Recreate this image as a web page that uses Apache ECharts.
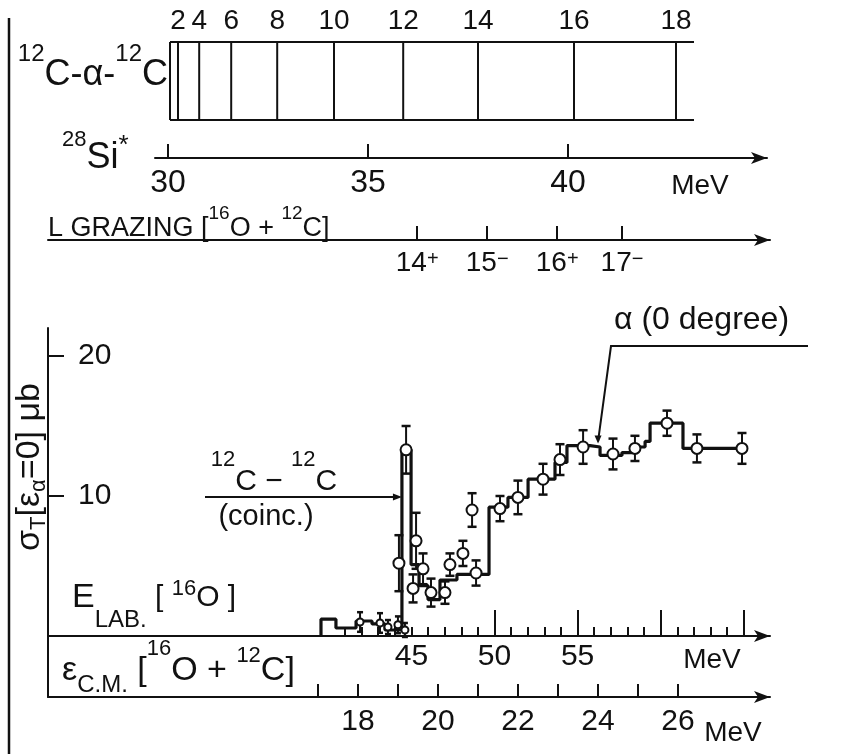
<!DOCTYPE html>
<html>
<head>
<meta charset="utf-8">
<script src="https://cdn.jsdelivr.net/npm/echarts@6/dist/echarts.min.js"></script>
<style>
  html, body { margin: 0; padding: 0; background: #fff; }
  #chart { width: 849px; height: 754px; }
</style>
</head>
<body>
<div id="chart"></div>
<script>
// 12C-alpha-12C rotational band: spin J and 28Si* excitation energy (MeV)
const bandSpin = [0, 2, 4, 6, 8, 10, 12, 14, 16, 18];
const bandEx = [30.05, 30.25, 30.78, 31.58, 32.73, 34.15, 35.88, 37.75, 40.15, 42.70];
const bandSpan = [30.05, 43.15];

// 28Si* excitation scale
const siTicks = [30, 35, 40];

// grazing angular momentum of 16O + 12C, placed on the C.M. energy scale
const lGrazing = [14, 15, 16, 17];
const lParity = ['+', '−', '+', '−'];
const lGrazingEcm = [19.48, 21.23, 22.98, 24.60];

// beam energy (lab) and C.M. energy scales
const elabMinorTicks = [41, 42, 43, 44, 45, 46, 47, 48, 49, 50, 51, 52, 53, 54, 55, 56, 57, 58, 59, 60, 61, 62, 63, 64];
const elabMajorTicks = [50, 55, 60, 65];
const elabLabels = [45, 50, 55];
const ecmTicks = [17, 18, 19, 20, 21, 22, 23, 24, 25, 26];
const ecmLabels = [18, 20, 22, 24, 26];
const sigmaTicks = [10, 20];

// measured cross sections: E_LAB (MeV), sigma_T (µb), error (µb)
const elab = [41.91, 43.11, 43.59, 44.19, 44.61, 44.25, 44.68, 45.28, 45.70, 45.10, 46.18, 47.02, 47.32,
              48.10, 48.65, 48.89, 50.33, 51.41, 52.92, 53.94, 55.33, 57.13, 58.45, 60.38, 62.18, 64.89];
const sigma = [1.0, 0.93, 0.64, 0.8, 0.43, 5.2, 13.3, 6.8, 4.8, 3.4, 3.1, 3.1, 5.1,
               5.9, 9.0, 4.5, 9.1, 9.9, 11.2, 12.6, 13.5, 13.0, 13.4, 15.2, 13.4, 13.4];
const sigmaErr = [0.7, 0.7, 0.5, 0.6, 0.5, 2.0, 1.7, 2.0, 1.1, 1.0, 1.0, 0.8, 0.8,
                  0.9, 1.2, 0.9, 0.9, 1.2, 1.1, 1.1, 1.2, 1.1, 0.9, 0.9, 1.0, 1.1];

// alpha (0 degree) yield, binned in E_LAB
const histEdges = [39.56, 40.46, 41.67, 42.63, 43.41, 44.43, 44.98, 45.46, 46.00, 46.72, 47.74, 49.67,
                   50.81, 52.02, 53.64, 54.36, 55.75, 56.35, 57.67, 58.27, 59.06, 59.36, 61.34, 65.07];
const histValues = [1.2, 0.57, 1.07, 0.86, 0.43, 13.3, 5.1, 3.6, 2.6, 4.0, 4.4,
                    9.2, 9.9, 11.2, 12.4, 13.6, 13.5, 12.9, 13.1, 13.5, 13.9, 15.2, 13.4];

// annotation anchors (E_LAB, sigma)
const coincArrowAt = [histEdges[5], 9.93];
const alphaArrowAt = [56.23, 13.9];

const INK = '#111';
const FONT = 'Liberation Sans';

const elabRange = [23.135, 66.576];
const ecmRange = [10.25, 28.3];
const exRange = [29.675, 44.975];

// multi-size label: parts = [text, fontSize, vertical offset]
function label(x, y, parts, opt) {
  opt = opt || {};
  const T = Math.max(...parts.map(p => p[1] / 2 - (p[2] || 0)));
  const pads = parts.map(p => T + (p[2] || 0) - p[1] / 2);
  const H = Math.max(...parts.map((p, i) => pads[i] + p[1]));
  const rich = {};
  let text = '';
  parts.forEach((p, i) => {
    const k = 't' + i;
    rich[k] = {
      fontSize: p[1], fontFamily: FONT, fill: INK,
      padding: [pads[i], 0, H - pads[i] - p[1], 0], lineHeight: H
    };
    text += '{' + k + '|' + p[0] + '}';
  });
  return {
    type: 'text', x: x, y: y, rotation: opt.rotation || 0, silent: true, z: 50,
    scaleX: opt.scaleX || 1,
    style: { x: 0, y: -T, text: text, rich: rich, align: opt.align || 'left', verticalAlign: 'top', fill: INK }
  };
}

const axisLineStyle = { color: INK, width: 2 };
const tickStyle = { color: INK, width: 2 };
const arrowLine = { symbol: ['none', 'arrow'], symbolSize: [9, 16], lineStyle: axisLineStyle };
const numLabel = { color: INK, fontFamily: FONT, fontSize: 30, hideOverlap: false };

const hiddenY = i => ({ gridIndex: i, type: 'value', min: 0, max: 1, show: false });

const option = {
  animation: false,
  backgroundColor: '#fff',
  textStyle: { fontFamily: FONT, color: INK },
  grid: [
    { left: 48, top: 328, width: 722, height: 369, outerBoundsMode: 'none' },   // 0 cross sections
    { left: 48, top: 536, width: 722, height: 100, outerBoundsMode: 'none' },   // 1 E_LAB scale
    { left: 48, top: 180, width: 722, height: 60, outerBoundsMode: 'none' },    // 2 L grazing
    { left: 155, top: 100, width: 612, height: 58, outerBoundsMode: 'none' },   // 3 28Si*
    { left: 155, top: 42, width: 612, height: 78, outerBoundsMode: 'none' },    // 4 band levels
    { left: 48, top: 536, width: 722, height: 100, outerBoundsMode: 'none' }    // 5 long E_LAB ticks
  ],
  xAxis: [
    { // E_LAB data scale of the cross-section panel
      gridIndex: 0, type: 'value', min: elabRange[0], max: elabRange[1], show: false
    },
    { // E_C.M. [16O + 12C]
      gridIndex: 0, type: 'value', position: 'bottom', min: ecmRange[0], max: ecmRange[1],
      axisLine: Object.assign({ onZero: false }, arrowLine),
      axisTick: { inside: true, length: 13, customValues: ecmTicks, lineStyle: tickStyle },
      axisLabel: Object.assign({ customValues: ecmLabels, margin: 10 }, numLabel),
      splitLine: { show: false }
    },
    { // E_LAB [16O]
      gridIndex: 1, type: 'value', position: 'bottom', min: elabRange[0], max: elabRange[1],
      axisLine: Object.assign({ onZero: false }, arrowLine),
      axisTick: { inside: true, length: 9, customValues: elabMinorTicks, lineStyle: tickStyle },
      axisLabel: Object.assign({ customValues: elabLabels, margin: 6 }, numLabel),
      splitLine: { show: false }
    },
    { // long E_LAB ticks every 5 MeV
      gridIndex: 5, type: 'value', position: 'bottom', min: elabRange[0], max: elabRange[1],
      axisLine: { show: false, onZero: false },
      axisTick: { inside: true, length: 26, customValues: elabMajorTicks, lineStyle: tickStyle },
      axisLabel: { show: false }, splitLine: { show: false }
    },
    { // L grazing
      gridIndex: 2, type: 'value', position: 'bottom', min: ecmRange[0], max: ecmRange[1],
      axisLine: Object.assign({ onZero: false }, arrowLine),
      axisTick: { inside: true, length: 14, customValues: lGrazingEcm, lineStyle: tickStyle },
      axisLabel: {
        customValues: lGrazingEcm, margin: 9, hideOverlap: false,
        formatter: v => {
          const i = lGrazingEcm.indexOf(v);
          return '{n|' + lGrazing[i] + '}{p|' + lParity[i] + '}';
        },
        rich: {
          n: { fontSize: 28, fontFamily: FONT, color: INK },
          p: { fontSize: 20, fontFamily: FONT, color: INK, verticalAlign: 'top' }
        }
      },
      splitLine: { show: false }
    },
    { // 28Si* excitation
      gridIndex: 3, type: 'value', position: 'bottom', min: exRange[0], max: exRange[1],
      axisLine: Object.assign({ onZero: false }, arrowLine),
      axisTick: { inside: true, length: 14, customValues: siTicks, lineStyle: tickStyle },
      axisLabel: Object.assign({}, numLabel, { customValues: siTicks, margin: 9, fontSize: 32 }),
      splitLine: { show: false }
    },
    { // band spins
      gridIndex: 4, type: 'value', position: 'top', min: exRange[0], max: exRange[1],
      axisLine: { show: false, onZero: false },
      axisTick: { show: false },
      axisLabel: {
        customValues: bandEx.slice(1), margin: 7, hideOverlap: false,
        color: INK, fontFamily: FONT, fontSize: 28,
        formatter: v => String(bandSpin[bandEx.indexOf(v)])
      },
      splitLine: { show: false }
    }
  ],
  yAxis: [
    {
      gridIndex: 0, type: 'value', min: -4.357, max: 22,
      axisLine: { show: true, onZero: false, lineStyle: axisLineStyle },
      axisTick: { show: true, inside: true, length: 16, customValues: sigmaTicks, lineStyle: tickStyle },
      axisLabel: Object.assign({ inside: true, margin: 30, customValues: sigmaTicks }, numLabel),
      splitLine: { show: false }
    },
    hiddenY(1), hiddenY(2), hiddenY(3), hiddenY(4), hiddenY(5)
  ],
  series: [
    { // band level lines
      type: 'custom', xAxisIndex: 6, yAxisIndex: 4, clip: false,
      data: bandEx.map((e, i) => [e, bandSpin[i]]),
      renderItem: (params, api) => {
        const a = api.coord([api.value(0), 0]);
        const b = api.coord([api.value(0), 1]);
        return { type: 'line', shape: { x1: a[0], y1: a[1], x2: b[0], y2: b[1] }, style: { stroke: INK, lineWidth: 2 } };
      }
    },
    { type: 'line', xAxisIndex: 6, yAxisIndex: 4, clip: false, symbol: 'none', silent: true,
      data: [[bandSpan[0], 1], [bandSpan[1], 1]], lineStyle: { color: INK, width: 2 } },
    { type: 'line', xAxisIndex: 6, yAxisIndex: 4, clip: false, symbol: 'none', silent: true,
      data: [[bandSpan[0], 0], [bandSpan[1], 0]], lineStyle: { color: INK, width: 2 } },
    { // alpha (0 degree) yield
      type: 'line', xAxisIndex: 0, yAxisIndex: 0, step: 'end', symbol: 'none', z: 2,
      data: [[histEdges[0], 0]]
        .concat(histValues.map((v, i) => [histEdges[i], v]))
        .concat([[histEdges[histEdges.length - 1], histValues[histValues.length - 1]]]),
      lineStyle: { color: INK, width: 3.2 }
    },
    { // error bars
      type: 'custom', xAxisIndex: 0, yAxisIndex: 0, z: 3,
      data: elab.map((x, i) => [x, sigma[i], sigmaErr[i]]),
      renderItem: (params, api) => {
        const x = api.value(0), y = api.value(1), e = api.value(2);
        const hi = api.coord([x, y + e]), lo = api.coord([x, y - e]);
        const w = y < 1.5 ? 3 : 4.5;
        return {
          type: 'group', children: [
            { type: 'line', shape: { x1: hi[0], y1: hi[1], x2: lo[0], y2: lo[1] }, style: { stroke: INK, lineWidth: 2 } },
            { type: 'line', shape: { x1: hi[0] - w, y1: hi[1], x2: hi[0] + w, y2: hi[1] }, style: { stroke: INK, lineWidth: 2.5 } },
            { type: 'line', shape: { x1: lo[0] - w, y1: lo[1], x2: lo[0] + w, y2: lo[1] }, style: { stroke: INK, lineWidth: 2.5 } }
          ]
        };
      }
    },
    { // data points
      type: 'scatter', xAxisIndex: 0, yAxisIndex: 0, z: 4,
      data: elab.map((x, i) => [x, sigma[i]]),
      symbol: 'circle',
      symbolSize: v => (v[1] < 1.5 ? 7 : 11),
      itemStyle: { color: '#fff', borderColor: INK, borderWidth: 2, opacity: 1 }
    }
  ]
};

const chart = echarts.init(document.getElementById('chart'), null, { renderer: 'canvas' });
chart.setOption(option);

const finder = { xAxisIndex: 0, yAxisIndex: 0 };
const coincTip = chart.convertToPixel(finder, coincArrowAt);
const alphaTip = chart.convertToPixel(finder, alphaArrowAt);

chart.setOption({
  graphic: [
    // page rule on the left
    { type: 'line', silent: true, shape: { x1: 9, y1: 18, x2: 9, y2: 754 }, style: { stroke: INK, lineWidth: 2.5 } },

    // band diagram caption
    label(168, 75, [['12', 24, -21], ['C-α-', 36, 0], ['12', 24, -21], ['C', 36, 0]], { align: 'right' }),
    label(62, 158, [['28', 22, -18], ['Si', 36, 0], ['*', 26, -12]]),
    label(700, 186, [['MeV', 28, 0]], { align: 'center' }),

    // L grazing caption
    label(48, 229, [['L GRAZING [', 27, 0], ['16', 19, -15], ['O + ', 27, 0], ['12', 19, -15], ['C]', 27, 0]]),

    // y axis title
    label(30, 467, [['σ', 34, 0], ['T', 22, 9], ['[', 34, 0], ['ε', 34, 0], ['α', 22, 9], ['=0]', 34, 0], [' μb', 34, 0]],
          { align: 'center', rotation: Math.PI / 2 }),

    // alpha (0 degree) annotation
    label(614, 320, [['α (0 degree)', 32, 0]]),
    { type: 'polyline', silent: true, shape: { points: [[808, 346], [611, 346], [alphaTip[0], alphaTip[1]]] },
      style: { stroke: INK, lineWidth: 2, fill: null } },
    { type: 'polygon', silent: true,
      shape: { points: [[alphaTip[0], alphaTip[1] + 2], [alphaTip[0] - 3.5, alphaTip[1] - 6], [alphaTip[0] + 3.5, alphaTip[1] - 6]] },
      style: { fill: INK } },

    // 12C-12C coincidence annotation
    label(274, 482, [['12', 22, -22], ['C − ', 30, 0], ['12', 22, -22], ['C', 30, 0]], { align: 'center' }),
    label(266, 517, [['(coinc.)', 29, 0]], { align: 'center' }),
    { type: 'line', silent: true, shape: { x1: 205, y1: coincTip[1], x2: coincTip[0] - 6, y2: coincTip[1] }, style: { stroke: INK, lineWidth: 2 } },
    { type: 'polygon', silent: true,
      shape: { points: [[coincTip[0], coincTip[1]], [coincTip[0] - 9, coincTip[1] - 3.5], [coincTip[0] - 9, coincTip[1] + 3.5]] },
      style: { fill: INK } },

    // energy axis captions
    label(72, 598, [['E', 34, 0], ['LAB.', 24, 22], [' [ ', 30, 0], ['16', 22, -9], ['O', 30, 0], [' ]', 30, 0]]),
    label(712, 660, [['MeV', 28, 0]], { align: 'center' }),
    label(62, 671, [['ε', 34, 0], ['C.M.', 24, 14], [' [', 34, 0], ['16', 22, -22], ['O + ', 34, 0], ['12', 22, -15], ['C]', 34, 0]]),
    label(733, 733, [['MeV', 28, 0]], { align: 'center' })
  ]
});
</script>
</body>
</html>
